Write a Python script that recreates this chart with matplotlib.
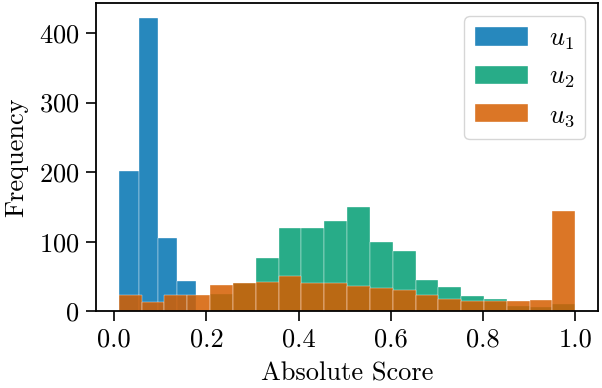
import numpy as np
import matplotlib
matplotlib.use("Agg")
import matplotlib.pyplot as plt

# bin edges
u1_edges = [0.0114, 0.0528, 0.0942, 0.1356, 0.1770]
u1_counts = [202, 422, 105, 43]

u23_edges = list(np.linspace(0.01, 1.0, 21))
u2_counts = [0, 0, 0, 0, 25, 40, 76, 119, 120, 129, 150, 100, 86, 45, 35, 22, 17, 8, 6, 11]
u3_counts = [23, 13, 23, 23, 37, 40, 42, 50, 40, 40, 36, 34, 30, 23, 18, 15, 15, 14, 16, 144]

labels = ['$u_1$', '$u_2$', '$u_3$']
colors = ['#0173b2', '#029e73', '#d55e00']

plt.rcParams['font.family'] = 'serif'
plt.rcParams['font.serif'] = ['cmr10']
plt.rcParams['mathtext.fontset'] = 'cm'
plt.rcParams['axes.formatter.use_mathtext'] = True
plt.rcParams['font.size'] = 19

fig = plt.figure(figsize=(6.02, 3.88), dpi=100)
ax = fig.add_axes([0.1595, 0.198, 0.834, 0.794])

series = [(u1_edges, u1_counts), (u23_edges, u2_counts), (u23_edges, u3_counts)]
for (edges, counts), lab, col in zip(series, labels, colors):
    edges = np.array(edges)
    centers = (edges[:-1] + edges[1:]) / 2
    ax.hist(centers, bins=edges, weights=counts, color=col, alpha=0.85,
            edgecolor='white', linewidth=0.3, label=lab)

ax.set_xticks([0.0, 0.2, 0.4, 0.6, 0.8, 1.0])
ax.set_xticklabels(['0.0', '0.2', '0.4', '0.6', '0.8', '1.0'])
ax.set_yticks([0, 100, 200, 300, 400])
ax.set_xlabel('Absolute Score', labelpad=7)
ax.set_ylabel('Frequency', labelpad=8)
ax.tick_params(length=7, width=1.2, pad=5)
for s in ax.spines.values():
    s.set_linewidth(1.3)

ax.legend(loc='upper right')

fig.savefig('out.png', dpi=100)
